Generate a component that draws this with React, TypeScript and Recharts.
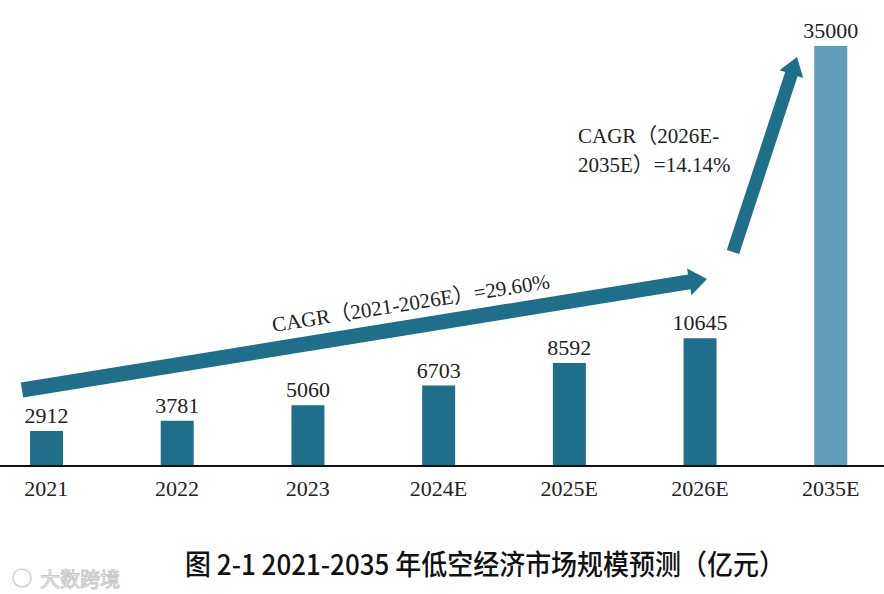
import { Bar, BarChart, Cell, LabelList, XAxis, YAxis } from 'recharts'

// 低空经济市场规模（亿元）
const years = ['2021', '2022', '2023', '2024E', '2025E', '2026E', '2035E']
const values = [2912, 3781, 5060, 6703, 8592, 10645, 35000]
const forecastFlags = [false, false, false, false, false, false, true]

const cagrShort = 'CAGR（2021-2026E）=29.60%'
const cagrLongLines = ['CAGR（2026E-', '2035E）=14.14%']
const title = '图 2-1  2021-2035 年低空经济市场规模预测（亿元）'

const DARK = '#1f6f8b'
const LIGHT = '#5e9cb8'
const SERIF = '"Liberation Serif", "Noto Sans CJK SC", serif'

const data = years.map((year, i) => ({ year, value: values[i], light: forecastFlags[i] }))

// polygon for a block arrow going from (x1,y1) to the tip (x2,y2)
function arrowPoints(x1: number, y1: number, x2: number, y2: number, shaft: number, head: number, headLen: number) {
  const dx = x2 - x1
  const dy = y2 - y1
  const len = Math.hypot(dx, dy)
  const ux = dx / len
  const uy = dy / len
  const nx = -uy
  const ny = ux
  const bx = x2 - ux * headLen
  const by = y2 - uy * headLen
  const pts = [
    [x1 + nx * shaft / 2, y1 + ny * shaft / 2],
    [bx + nx * shaft / 2, by + ny * shaft / 2],
    [bx + nx * head / 2, by + ny * head / 2],
    [x2, y2],
    [bx - nx * head / 2, by - ny * head / 2],
    [bx - nx * shaft / 2, by - ny * shaft / 2],
    [x1 - nx * shaft / 2, y1 - ny * shaft / 2]
  ]
  return pts.map(p => p.join(',')).join(' ')
}

export default function App() {
  return (
    <div style={{ position: 'relative', width: 884, height: 594, overflow: 'hidden', background: '#fff' }}>
      <style>{'body{margin:0}'}</style>
      <div style={{ position: 'absolute', left: -19, top: 0 }}>
        <BarChart
          width={915}
          height={506}
          data={data}
          margin={{ top: 46, right: 0, bottom: 0, left: 0 }}
        >
          <XAxis
            dataKey="year"
            height={40}
            tickLine={false}
            tickSize={0}
            tickMargin={14}
            axisLine={{ stroke: '#111', strokeWidth: 2 }}
            tick={{ fill: '#222', fontSize: 22, fontFamily: SERIF }}
            interval={0}
          />
          <YAxis hide domain={[0, 35000]} />
          <Bar dataKey="value" barSize={33} isAnimationActive={false}>
            {data.map((d, i) => (
              <Cell key={i} fill={d.light ? LIGHT : DARK} />
            ))}
            <LabelList
              dataKey="value"
              position="top"
              offset={8}
              fill="#222"
              fontSize={22}
              fontFamily={SERIF}
            />
          </Bar>
        </BarChart>
      </div>
      <svg
        width={884}
        height={594}
        style={{ position: 'absolute', left: 0, top: 0, pointerEvents: 'none' }}
      >
        <polygon points={arrowPoints(22, 390, 707, 279, 15, 27, 18)} fill={DARK} />
        <polygon points={arrowPoints(733, 252, 797, 57, 13, 25, 18)} fill={DARK} />
        <text
          x={412}
          y={310}
          textAnchor="middle"
          transform="rotate(-9 412 310)"
          fontSize={21}
          fontFamily={SERIF}
          fill="#222"
        >
          {cagrShort}
        </text>
        {cagrLongLines.map((line, i) => (
          <text key={i} x={578} y={143 + i * 29} fontSize={21} fontFamily={SERIF} fill="#222">
            {line}
          </text>
        ))}
        <text
          x={185}
          y={575}
          textLength={600}
          lengthAdjust="spacingAndGlyphs"
          fontSize={28}
          fontWeight={500}
          fontFamily='"Noto Sans CJK SC", sans-serif'
          fill="#111"
        >
          {title}
        </text>
        <text
          x={40}
          y={587}
          fontSize={20}
          fontFamily='"Noto Sans CJK SC", sans-serif'
          fill="#fff"
          stroke="#c8c8c8"
          strokeWidth={1}
        >
          大数跨境
        </text>
        <circle cx={22} cy={578} r={9} fill="none" stroke="#d0d0d0" strokeWidth={1.5} />
      </svg>
    </div>
  )
}
